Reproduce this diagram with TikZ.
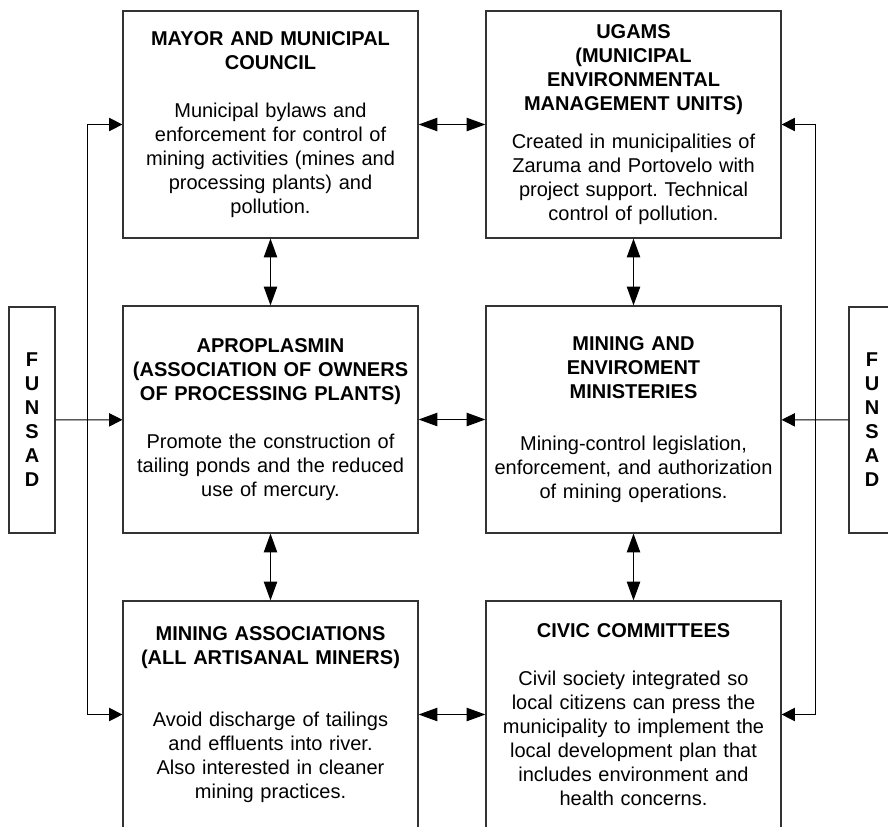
\documentclass[tikz,border=0pt]{standalone}
\usepackage{fontspec}
\setmainfont{Liberation Sans}
\usetikzlibrary{arrows.meta}
\frenchspacing

\newcommand{\boxtext}[3][18pt]{\bfseries #2\\[#1]\mdseries #3}

\begin{document}
\begin{tikzpicture}[x=.75pt,y=-.75pt,
  block/.style={draw=black!80,line width=.9pt,minimum width=221.25pt,minimum height=170.25pt,
    inner sep=0pt,text width=221.25pt,align=center,font=\fontsize{15}{18}\selectfont},
  funsad/.style={draw=black!80,line width=.9pt,minimum width=34.5pt,minimum height=169.5pt,
    inner sep=0pt,align=center,font=\fontsize{15}{18}\selectfont\bfseries},
  link/.style={line width=.75pt,<->,>={Triangle[length=14pt,width=10pt]}},
  bus/.style={line width=.75pt,<->,>={Triangle[length=10pt,width=10pt]}},
  feed/.style={line width=.75pt,->,>={Triangle[length=10pt,width=10pt]}}]
\useasboundingbox (0,0) rectangle (888,826);
\clip (0,0) rectangle (888,826);
\node[block] (mayor) at (270.5,124.5) {\boxtext{MAYOR AND MUNICIPAL\\COUNCIL}{Municipal bylaws and\\enforcement for control of\\mining activities (mines and\\processing plants) and\\pollution.}};
\node[block] (ugams) at (633.5,124.5) {\boxtext[10pt]{UGAMS\\(MUNICIPAL\\ENVIRONMENTAL\\MANAGEMENT UNITS)}{Created in municipalities of\\Zaruma and Portovelo with\\project support. Technical\\control of pollution.}};
\node[block] (aproplasmin) at (270.5,419.5) {\boxtext{APROPLASMIN\\(ASSOCIATION OF OWNERS\\OF PROCESSING PLANTS)}{Promote the construction of\\tailing ponds and the reduced\\use of mercury.}};
\node[block] (ministry) at (633.5,419.5) {\boxtext[21pt]{MINING AND\\ENVIROMENT\\MINISTERIES}{Mining-control legislation,\\enforcement, and authorization\\of mining operations.}};
\node[block] (miners) at (270.5,714.5) {\boxtext[28pt]{MINING ASSOCIATIONS\\(ALL ARTISANAL MINERS)}{Avoid discharge of tailings\\and effluents into river.\\Also interested in cleaner\\mining practices.}};
\node[block] (civic) at (633.5,714.5) {\boxtext{CIVIC COMMITTEES}{Civil society integrated so\\local citizens can press the\\municipality to implement the\\local development plan that\\includes environment and\\health concerns.}};
\node[funsad] (funsadL) at (32,420) {F\\U\\N\\S\\A\\D};
\node[funsad] (funsadR) at (872,420) {F\\U\\N\\S\\A\\D};
\coordinate (busL) at (87,0);
\coordinate (busR) at (815,0);
% rows
\draw[link] (mayor) -- (ugams);
\draw[link] (aproplasmin) -- (ministry);
\draw[link] (miners) -- (civic);
% columns
\draw[link] (mayor) -- (aproplasmin);
\draw[link] (aproplasmin) -- (miners);
\draw[link] (ugams) -- (ministry);
\draw[link] (ministry) -- (civic);
% FUNSAD
\draw[feed] (funsadL) -- (aproplasmin);
\draw[feed] (funsadR) -- (ministry);
\draw[bus] (mayor.west) -- (mayor.west -| busL) -- (miners.west -| busL) -- (miners.west);
\draw[bus] (ugams.east) -- (ugams.east -| busR) -- (civic.east -| busR) -- (civic.east);
\end{tikzpicture}
\end{document}
